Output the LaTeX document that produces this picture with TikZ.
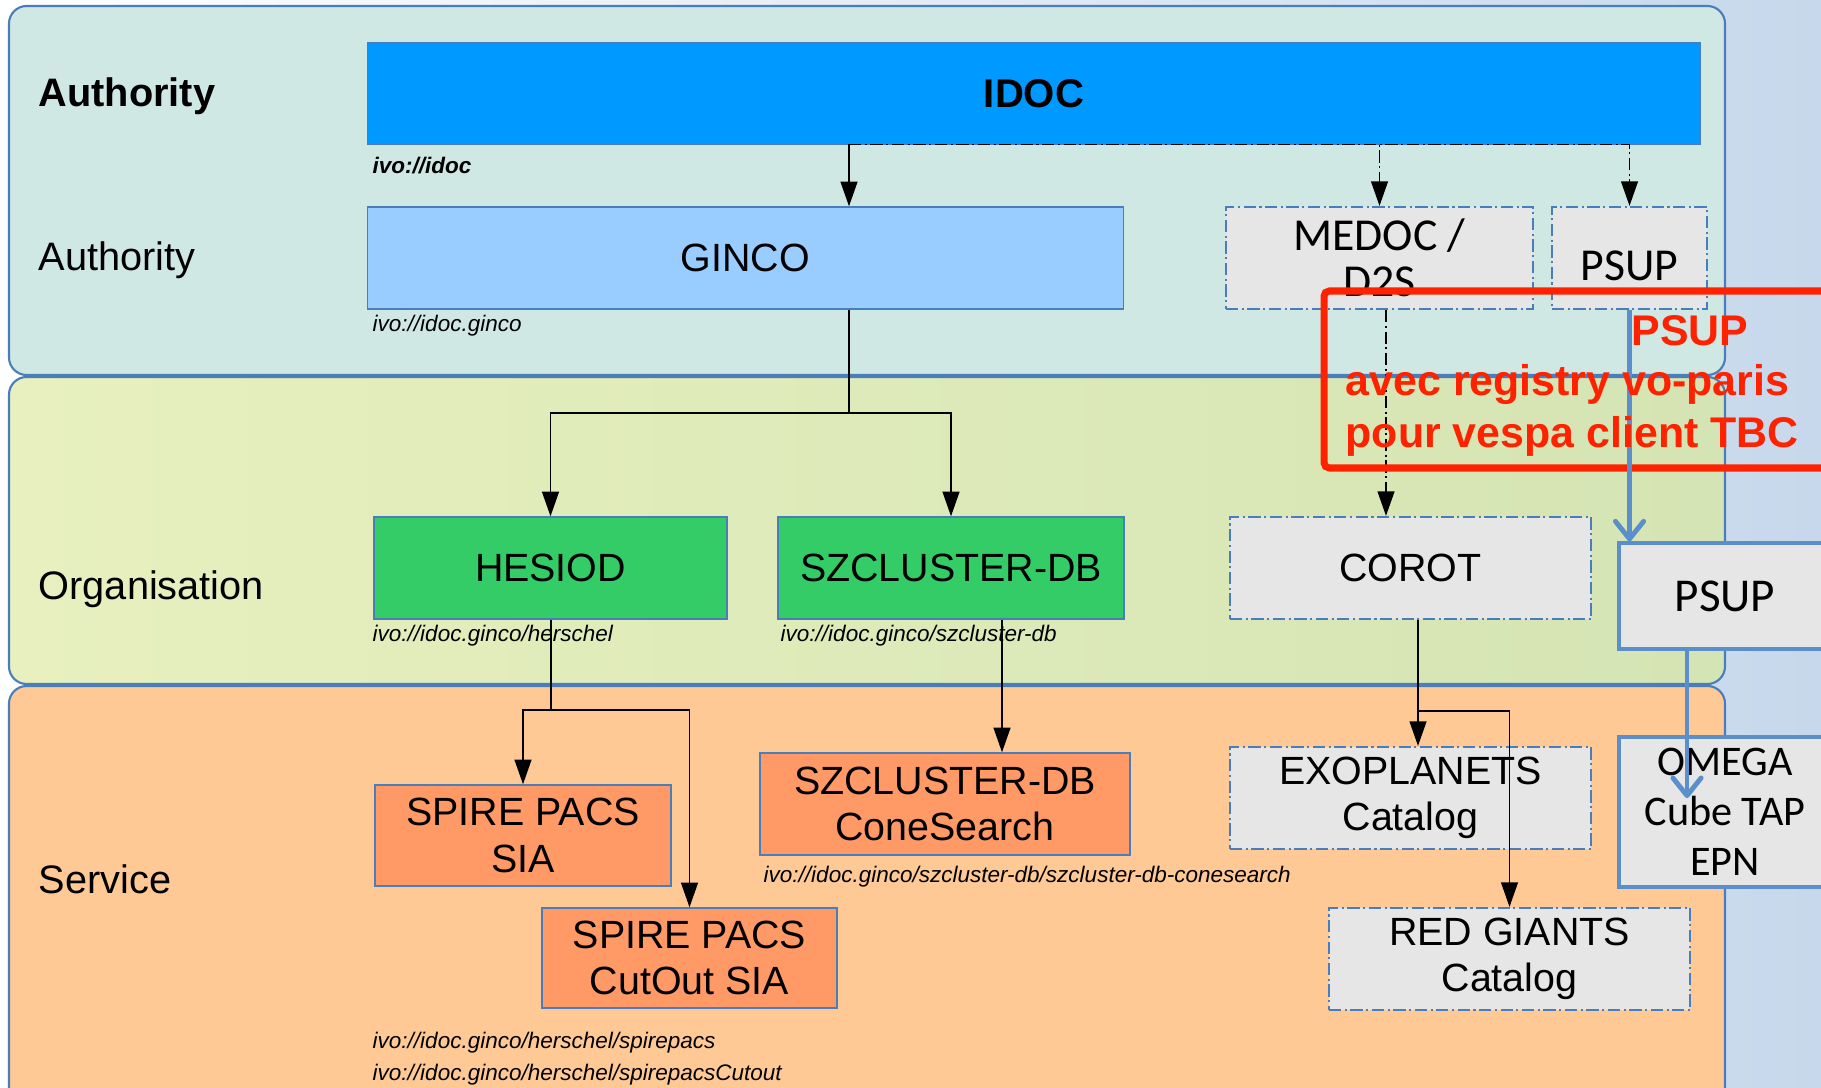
\documentclass[tikz,border=0pt]{standalone}
\usepackage{fontspec}
\setmainfont{Liberation Sans}
\newfontfamily\calibrifont{Carlito}
\usetikzlibrary{arrows.meta, calc, positioning}
\definecolor{idocblue}{HTML}{0099FF}
\definecolor{gincoblue}{HTML}{99CCFF}
\definecolor{orggreen}{HTML}{33CC66}
\definecolor{servorange}{HTML}{FF9966}
\definecolor{extgrey}{HTML}{E6E6E6}
\definecolor{edgeblue}{HTML}{4A7EBB}
\definecolor{authband}{HTML}{D0E8E4}
\definecolor{orgbandL}{HTML}{E7F0BE}
\definecolor{orgbandR}{HTML}{D5E4B4}
\definecolor{servband}{HTML}{FFC995}
\definecolor{slideblue}{HTML}{C7D8EC}
\definecolor{notered}{HTML}{FF2200}
\definecolor{psupblue}{HTML}{5B8FCC}

\begin{document}
\begin{tikzpicture}[x=0.01cm, y=-0.01cm,
    box/.style={draw=edgeblue, line width=0.4pt, inner sep=0pt, align=center,
      font=\fontsize{11.2}{13.2}\selectfont},
    dashdotline/.style={dash pattern=on 3.5pt off 1pt on 0.6pt off 1pt},
    extbox/.style={box, fill=extgrey, dashdotline, line width=0.6pt},
    conn/.style={line width=0.45pt},
    arr/.style={conn, -{Triangle[length=7pt,width=4.8pt]}},
    ivo/.style={anchor=base west, inner sep=0pt, font=\itshape\fontsize{6.4}{7.7}\selectfont},
    lane/.style={anchor=base west, inner sep=0pt, font=\fontsize{11.3}{13.5}\selectfont},
    psupbox/.style={draw=psupblue, line width=0.9pt, fill=extgrey, inner sep=0pt, align=center},
    bluearr/.style={draw=psupblue, line width=1.4pt, -{Straight Barb[length=5pt,width=8pt,round]}},
    note/.style={text=notered, inner sep=0pt, font=\bfseries\fontsize{12.2}{14.8}\selectfont}]

    \clip (0,0) rectangle (1821,1088);
    \shade[left color=white, right color=slideblue] (0,0) rectangle (1821,1088);

    % lanes
    \filldraw[fill=authband, draw=edgeblue, line width=0.6pt, rounded corners=5pt] (9,6) rectangle (1725,375);
    \shadedraw[left color=orgbandL, right color=orgbandR, draw=edgeblue, line width=0.6pt, rounded corners=5pt] (9,377) rectangle (1725,684);
    \filldraw[fill=servband, draw=edgeblue, line width=0.6pt, rounded corners=5pt] (9,686) rectangle (1725,1130);

    \node[lane, font=\bfseries\fontsize{11.3}{13.5}\selectfont] (authtop) at (38,107) {Authority};
    \node[lane] (authlow) at (38,271) {Authority};
    \node[lane] (org) at (38,599) {Organisation};
    \node[lane] (serv) at (38,893) {Service};

    % boxes
    \node[box, fill=idocblue, font=\bfseries\fontsize{11.4}{13.2}\selectfont, minimum width=13.32cm, minimum height=1.01cm] (idoc) at (1034,93.5) {IDOC};
    \node[box, fill=gincoblue, minimum width=7.55cm, minimum height=1.02cm] (ginco) at (745.5,258) {GINCO};
    \node[extbox, font=\calibrifont\fontsize{13}{13.1}\selectfont, minimum width=3.07cm, minimum height=1.02cm] (medoc) at (1379.5,258) {MEDOC /\\D2S};
    \node[extbox, font=\calibrifont\fontsize{13}{13.1}\selectfont, text height=13pt, text depth=0pt, minimum width=1.55cm, minimum height=1.02cm] (psuptop) at (1629.5,258) {PSUP};

    \node[box, fill=orggreen, minimum width=3.53cm, minimum height=1.02cm] (hesiod) at (550.5,568) {HESIOD};
    \node[box, fill=orggreen, minimum width=3.46cm, minimum height=1.02cm] (szcl) at (951,568) {SZCLUSTER-DB};
    \node[extbox, minimum width=3.61cm, minimum height=1.02cm] (corot) at (1410.5,568) {COROT};

    \node[box, fill=servorange, minimum width=2.96cm, minimum height=1.01cm] (sia) at (523,835.5) {SPIRE PACS\\SIA};
    \node[box, fill=servorange, minimum width=2.95cm, minimum height=1.0cm] (cutout) at (689.5,958) {SPIRE PACS\\CutOut SIA};
    \node[box, fill=servorange, minimum width=3.70cm, minimum height=1.02cm] (cone) at (945,804) {SZCLUSTER-DB\\ConeSearch};
    \node[extbox, minimum width=3.61cm, minimum height=1.02cm] (exo) at (1410.5,798) {EXOPLANETS\\Catalog};
    \node[extbox, minimum width=3.61cm, minimum height=1.02cm] (redg) at (1509.5,959) {RED GIANTS\\Catalog};

    % connectors
    \coordinate (isplit) at (849,144.5);
    \draw[arr] (isplit) -- (isplit |- ginco.north);
    \draw[arr, dashdotline] (isplit) -| (medoc.north);
    \draw[arr, dashdotline] (isplit) -| (psuptop.north);

    \coordinate (gsplit) at (849,413);
    \draw[conn] (gsplit |- ginco.south) -- (gsplit);
    \draw[arr] (gsplit) -| (hesiod.north);
    \draw[arr] (gsplit) -| (szcl.north);

    \coordinate (hsplit) at (551,710);
    \draw[conn] (hsplit |- hesiod.south) -- (hsplit);
    \draw[arr] (hsplit) -| (sia.north);
    \draw[arr] (hsplit) -| (cutout.north);

    \coordinate (szdrop) at (1002,619);
    \draw[arr] (szdrop |- szcl.south) -- (szdrop |- cone.north);

    \coordinate (mdrop) at (1386,309);
    \draw[arr, dashdotline] (mdrop |- medoc.south) -- (mdrop |- corot.north);

    \coordinate (csplit) at (1418,711);
    \draw[conn] (csplit |- corot.south) -- (csplit);
    \draw[arr] (csplit) -- (csplit |- exo.north);
    \draw[arr] (csplit) -| (redg.north);

    % identifiers
    \node[ivo, font=\bfseries\itshape\fontsize{6.4}{7.7}\selectfont] (ivoidoc) at (372,173) {ivo://idoc};
    \node[ivo] (ivoginco) at (372,331) {ivo://idoc.ginco};
    \node[ivo] (ivoherschel) at (372,641) {ivo://idoc.ginco/herschel};
    \node[ivo] (ivoszcl) at (780,641) {ivo://idoc.ginco/szcluster-db};
    \node[ivo] (ivocone) at (763,882) {ivo://idoc.ginco/szcluster-db/szcluster-db-conesearch};
    \node[ivo] (ivosia) at (372,1048) {ivo://idoc.ginco/herschel/spirepacs};
    \node[ivo] (ivocutout) at (372,1080) {ivo://idoc.ginco/herschel/spirepacsCutout};

    % PSUP overlay
    \node[psupbox, font=\calibrifont\fontsize{13.4}{15}\selectfont, minimum width=2.12cm, minimum height=1.06cm] (psupmid) at (1725,596) {PSUP};
    \node[psupbox, font=\calibrifont\fontsize{12}{14.2}\selectfont, minimum width=2.12cm, minimum height=1.5cm] (omega) at (1725,812) {OMEGA\\Cube TAP\\EPN};

    \draw[notered, line width=2pt, rounded corners=1.5pt] (1324,291) rectangle (1900,468);
    \draw[bluearr] (psuptop.south) -- (psuptop.south |- psupmid.north);
    \coordinate (omegatip) at (1687,798);
    \draw[bluearr] (omegatip |- psupmid.south) -- (omegatip);

    \node[note, anchor=base] (notetitle) at (1690,345) {PSUP};
    \node[note, anchor=base west] (noteline1) at (1345,395) {avec registry vo-paris};
    \node[note, anchor=base west] (noteline2) at (1345,447) {pour vespa client TBC};
\end{tikzpicture}
\end{document}
